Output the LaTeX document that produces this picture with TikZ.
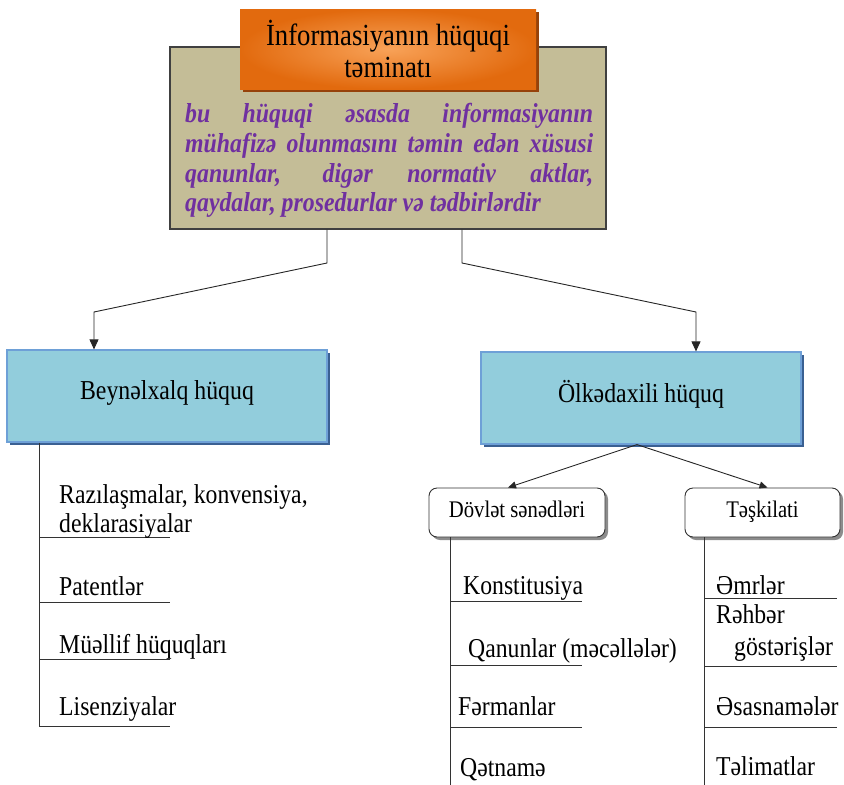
\documentclass[tikz,border=0pt]{standalone}
\usepackage{fontspec}
\usepackage{graphicx}
\setmainfont{Liberation Serif}
\usetikzlibrary{arrows.meta,shadows,calc}

% letters are set slightly taller than wide
\newcommand\tall[1]{\scalebox{1}[1.15]{#1}}

\definecolor{tanfill}{RGB}{196,189,151}
\definecolor{tanedge}{RGB}{64,64,64}
\definecolor{orangeout}{RGB}{226,106,14}
\definecolor{orangein}{RGB}{248,162,88}
\definecolor{orangeshadow}{RGB}{150,66,10}
\definecolor{bluefill}{RGB}{146,205,220}
\definecolor{blueedge}{RGB}{110,160,215}
\definecolor{blueshadow}{RGB}{58,96,146}
\definecolor{purpletext}{RGB}{112,48,160}

\tikzset{
  tanbox/.style={draw=tanedge, line width=1.3pt, fill=tanfill, inner sep=0pt},
  orangebox/.style={inner sep=0pt, inner color=orangein, outer color=orangeout,
    drop shadow={shadow xshift=3pt, shadow yshift=-3pt, fill=orangeshadow, opacity=1}},
  bluebox/.style={draw=blueedge, line width=1.2pt, fill=bluefill, inner sep=0pt,
    minimum width=320pt, minimum height=92pt,
    drop shadow={shadow xshift=3pt, shadow yshift=-3pt, fill=blueshadow, opacity=1}},
  roundbox/.style={draw=black!80, line width=0.9pt, fill=white, rounded corners=8pt,
    inner sep=0pt, minimum height=49pt,
    drop shadow={shadow xshift=3pt, shadow yshift=-3pt, fill=black!45, opacity=1}},
  titletext/.style={inner sep=0pt, anchor=base, font=\fontsize{26.7}{32}\selectfont},
  purp/.style={inner sep=0pt, anchor=base west, text=purpletext,
    font=\fontsize{23.8}{29}\selectfont\bfseries\itshape},
  boxtext/.style={inner sep=0pt, anchor=base, font=\fontsize{23.8}{28}\selectfont},
  smalltext/.style={inner sep=0pt, anchor=base, font=\fontsize{20.7}{25}\selectfont},
  item/.style={inner sep=0pt, anchor=base west, font=\fontsize{23.7}{28}\selectfont},
  conn/.style={draw=black!85, line width=0.9pt},
  bigarrow/.style={conn, -{Triangle[length=10pt,width=9pt]}},
  smallarrow/.style={conn, -{Triangle[length=8pt,width=7pt]}},
  rule/.style={draw=black!80, line width=0.9pt}
}

\begin{document}
\begin{tikzpicture}[x=1pt,y=-1pt]
\useasboundingbox (0,0) rectangle (844,785);

% background panel with the definition
\node[tanbox, minimum width=436pt, minimum height=182pt] (ground) at (388,138) {};

% title plate
\node[orangebox, minimum width=296pt, minimum height=80pt] (title) at (388,49) {};
\node[titletext] (title1) at (388,45) {\tall{İnformasiyanın hüquqi}};
\node[titletext] (title2) at (388,77) {\tall{təminatı}};

% justified definition text
\node[purp] (def1) at (185,122) {\tall{\makebox[408pt][s]{bu hüquqi əsasda informasiyanın}}};
\node[purp] (def2) at (185,152) {\tall{\makebox[408pt][s]{mühafizə olunmasını təmin edən xüsusi}}};
\node[purp] (def3) at (185,182) {\tall{\makebox[408pt][s]{qanunlar, digər normativ aktlar,}}};
\node[purp] (def4) at (185,211) {\tall{qaydalar, prosedurlar və tədbirlərdir}};

% two branches of law
\node[bluebox] (intl) at (167,396) {};
\node[boxtext] (intltext) at (167,399) {\tall{Beynəlxalq hüquq}};
\node[bluebox] (dom) at (641,398) {};
\node[boxtext] (domtext) at (641,402) {\tall{Ölkədaxili hüquq}};

% connectors from the panel to the branches
\coordinate (lbend1) at (327,263);
\coordinate (lbend2) at (94,312);
\coordinate (rbend1) at (462,263);
\coordinate (rbend2) at (696,312);
\draw[bigarrow] (ground.south -| lbend1) -- (lbend1) -- (lbend2) -- (lbend2 |- intl.north);
\draw[bigarrow] (ground.south -| rbend1) -- (rbend1) -- (rbend2) -- (rbend2 |- dom.north);

% sub-branches of domestic law
\node[roundbox, minimum width=176pt] (state) at (517,512.5) {};
\node[smalltext] (statetext) at (517,517) {\tall{Dövlət sənədləri}};
\node[roundbox, minimum width=155pt] (org) at (762.5,512.5) {};
\node[smalltext] (orgtext) at (762.5,517) {\tall{Təşkilati}};
\coordinate (domfoot) at ($(dom.south)+(-4,0)$);
\draw[smallarrow] (domfoot) -- ($(state.north)+(-9,0)$);
\draw[smallarrow] (domfoot) -- ($(org.north)+(5,0)$);

% list under international law
\coordinate (lspine) at (39,726);
\draw[rule] (intl.south -| lspine) -- (lspine);
\foreach \yy in {537,602,659,726} \draw[rule] (39,\yy) -- (170,\yy);
\node[item] (i1) at (59,503) {\tall{Razılaşmalar, konvensiya,}};
\node[item] (i2) at (59,532) {\tall{deklarasiyalar}};
\node[item] (i3) at (59,595) {\tall{Patentlər}};
\node[item] (i4) at (59,653) {\tall{Müəllif hüquqları}};
\node[item] (i5) at (59,715) {\tall{Lisenziyalar}};

% list under state documents
\coordinate (sspine) at (450,785);
\draw[rule] (state.south -| sspine) -- (sspine);
\foreach \yy in {601,665,727} \draw[rule] (450,\yy) -- (582,\yy);
\node[item] (s1) at (463,594) {\tall{Konstitusiya}};
\node[item] (s2) at (468,657) {\tall{Qanunlar (məcəllələr)}};
\node[item] (s3) at (458,715) {\tall{Fərmanlar}};
\node[item] (s4) at (460,776) {\tall{Qətnamə}};

% list under organisational acts
\coordinate (ospine) at (704,785);
\draw[rule] (org.south -| ospine) -- (ospine);
\foreach \yy in {598,666,727} \draw[rule] (704,\yy) -- (837,\yy);
\node[item] (o1) at (716,594) {\tall{Əmrlər}};
\node[item] (o2) at (716,623) {\tall{Rəhbər}};
\node[item] (o3) at (734,655) {\tall{göstərişlər}};
\node[item] (o4) at (716,715) {\tall{Əsasnamələr}};
\node[item] (o5) at (716,775) {\tall{Təlimatlar}};
\end{tikzpicture}
\end{document}
